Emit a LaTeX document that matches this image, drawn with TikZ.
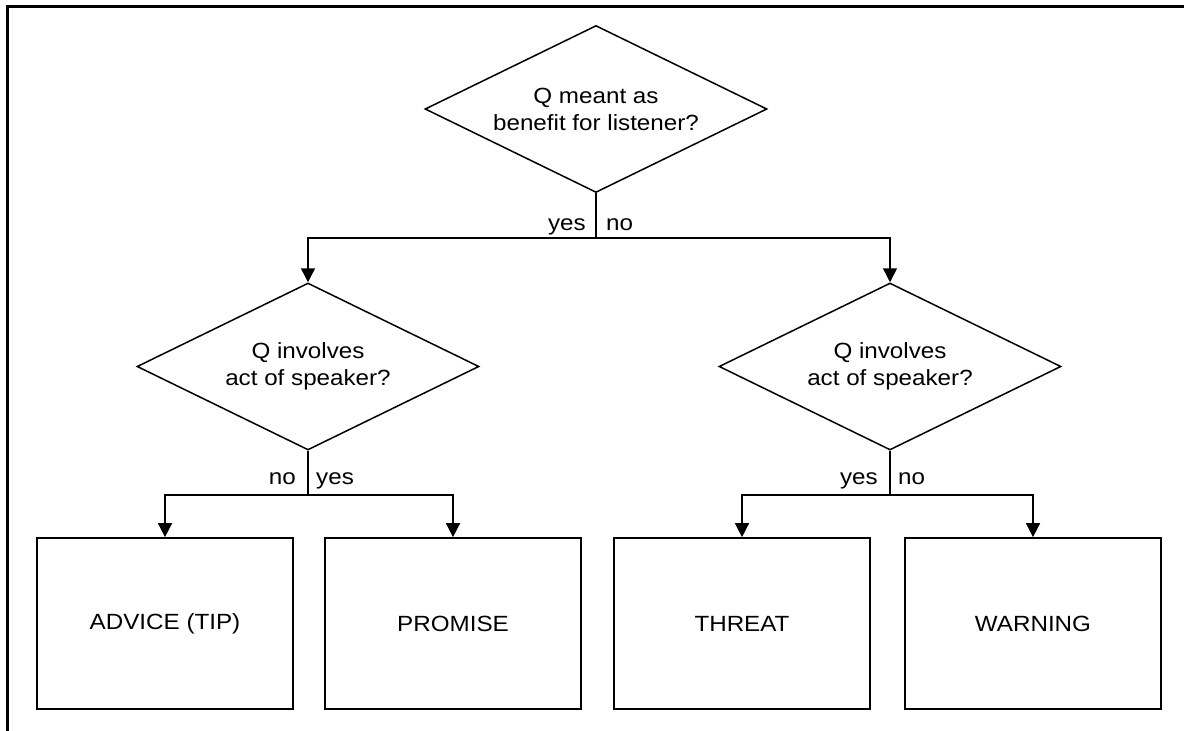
\documentclass[tikz,border=0pt]{standalone}
\usepackage{fontspec}
\setmainfont{Liberation Sans}[FakeStretch=1.1]
\usetikzlibrary{shapes.geometric,arrows.meta}
\begin{document}
\begin{tikzpicture}[x=1pt,y=-1pt,
  txt/.style={font=\fontsize{22}{27}\selectfont, align=center},
  dec/.style={draw, shape=diamond, line width=1.5pt, aspect=2.06, inner sep=0pt,
    minimum width=342pt, minimum height=167pt, txt},
  box/.style={draw, rectangle, line width=1.7pt, minimum width=256pt, minimum height=171pt, txt},
  arr/.style={line width=1.5pt, -{Triangle[width=14pt,length=14pt]}},
  con/.style={line width=1.5pt},
  lbl/.style={font=\fontsize{22}{27}\selectfont, inner sep=0pt}]
\useasboundingbox (0,0) rectangle (1184,731);
\fill[white] (0,0) rectangle (1184,731);
\draw[line width=3pt] (7,731) -- (7,6) -- (1184,6);

\node[dec] (top) at (596,109) {Q meant as\\benefit for listener?};
\node[dec] (ldia) at (308,366.5) {Q involves\\act of speaker?};
\node[dec] (rdia) at (890,366.5) {Q involves\\act of speaker?};

\node[box] (advice) at (165,623.5) {ADVICE (TIP)};
\node[box] (promise) at (453,623.5) {PROMISE};
\node[box] (threat) at (742,623.5) {THREAT};
\node[box] (warning) at (1033,623.5) {WARNING};

\coordinate (j1) at (596,238);
\coordinate (j2) at (308,495);
\coordinate (j3) at (890,495);

\draw[con] (top.south) -- (j1);
\draw[arr] (j1) -| (ldia.north);
\draw[arr] (j1) -| (rdia.north);

\draw[con] (ldia.south) -- (j2);
\draw[arr] (j2) -| (advice.north);
\draw[arr] (j2) -| (promise.north);

\draw[con] (rdia.south) -- (j3);
\draw[arr] (j3) -| (threat.north);
\draw[arr] (j3) -| (warning.north);

\node[lbl, anchor=base east] (y1) at ([xshift=-10pt,yshift=8pt]j1) {yes};
\node[lbl, anchor=base west] (n1) at ([xshift=10pt,yshift=8pt]j1) {no};
\node[lbl, anchor=base east] (n2) at ([xshift=-12pt,yshift=11pt]j2) {no};
\node[lbl, anchor=base west] (y2) at ([xshift=8pt,yshift=11pt]j2) {yes};
\node[lbl, anchor=base east] (y3) at ([xshift=-12pt,yshift=11pt]j3) {yes};
\node[lbl, anchor=base west] (n3) at ([xshift=8pt,yshift=11pt]j3) {no};
\end{tikzpicture}
\end{document}
